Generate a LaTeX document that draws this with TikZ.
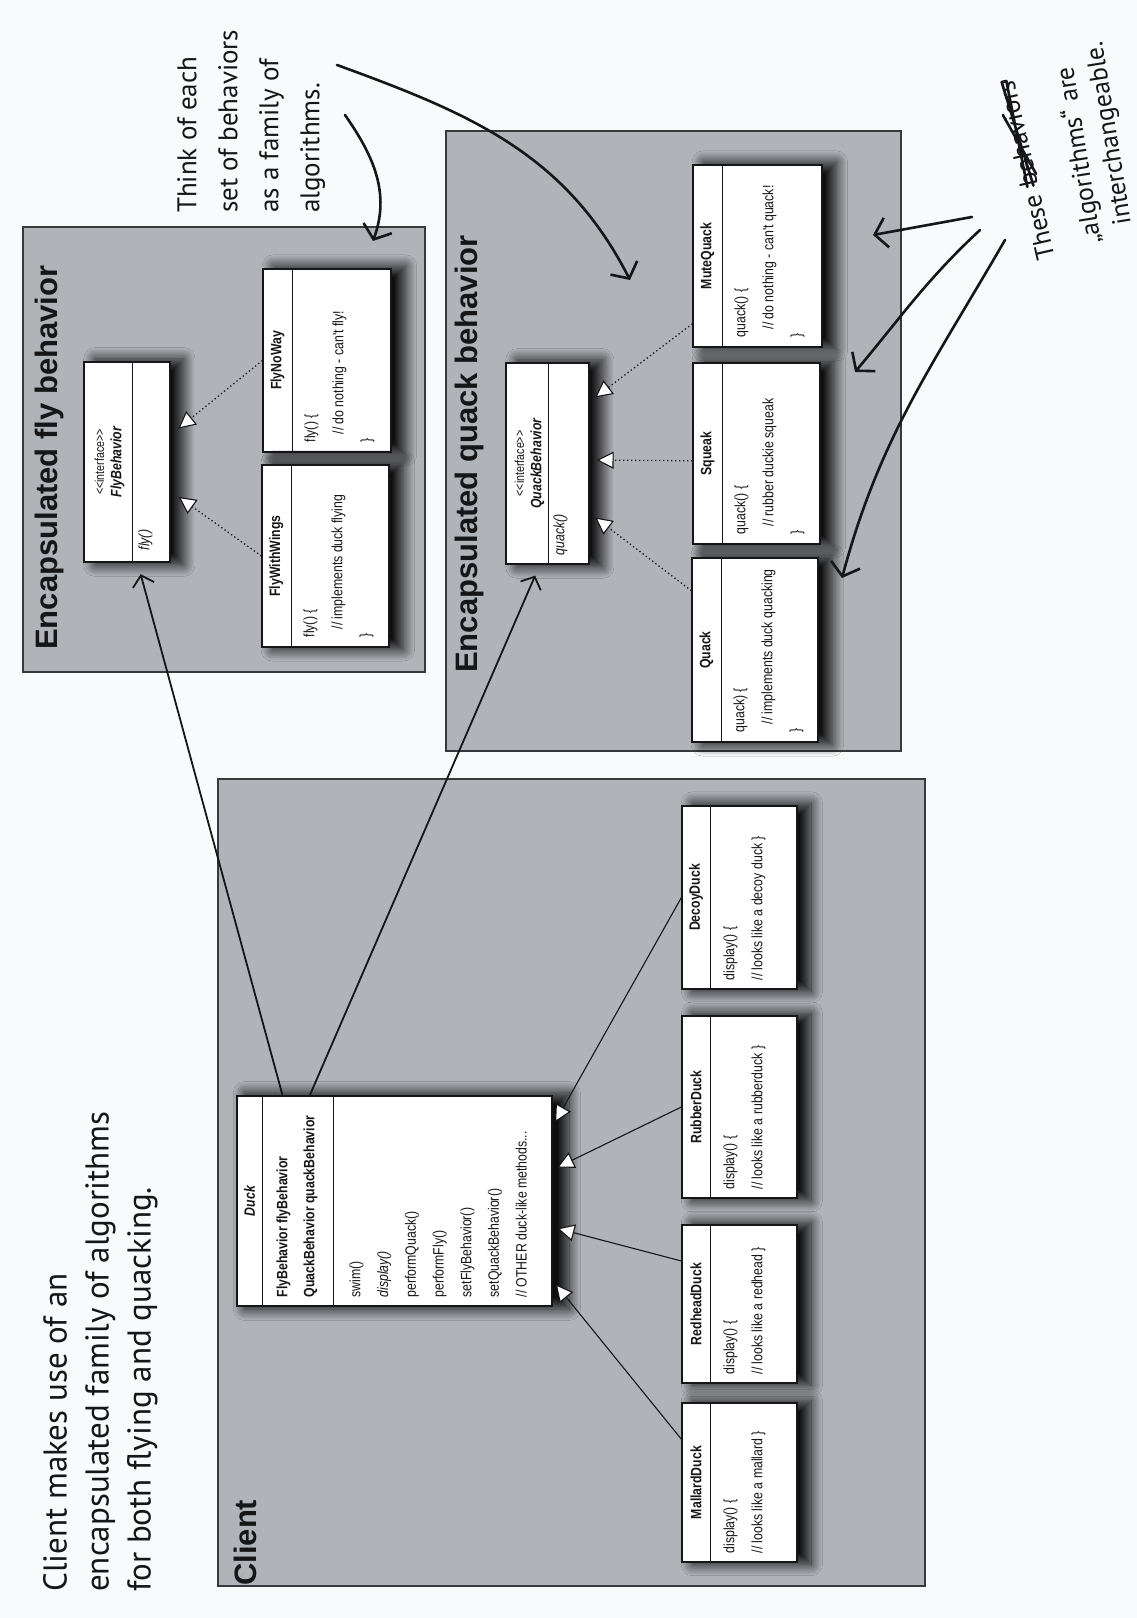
\documentclass[tikz,border=0pt]{standalone}
\usepackage{fontspec}
\usetikzlibrary{arrows.meta,calc,shadows.blur}

\newfontfamily\umlfont[FakeStretch=0.82]{Liberation Sans}
\newfontfamily\areafont{Liberation Sans}
\newfontfamily\handfont{PT Sans}

\definecolor{paper}{RGB}{248,250,251}
\definecolor{areafill}{RGB}{176,179,184}
\definecolor{arealine}{RGB}{55,57,60}
\definecolor{ink}{RGB}{22,22,24}

\begin{document}
\begin{tikzpicture}[
  x=1pt, y=1pt, rotate=90, transform shape,
  area/.style={draw=arealine, fill=areafill, line width=2.5pt, inner sep=0pt},
  areatitle/.style={anchor=base west, inner sep=0pt, text=ink, font=\areafont\bfseries\fontsize{31}{31}\selectfont},
  classbox/.style={draw=ink, fill=white, line width=1.2pt, inner sep=0pt,
    blur shadow={shadow xshift=12pt, shadow yshift=0pt, shadow scale=1.03, shadow blur radius=11pt, shadow blur steps=24, shadow opacity=92}},
  divider/.style={draw=ink, line width=1.2pt},
  classname/.style={inner sep=0pt, text=ink, font=\umlfont\bfseries\fontsize{15}{15}\selectfont},
  stereotype/.style={inner sep=0pt, text=ink, font=\umlfont\fontsize{13}{13}\selectfont},
  classbody/.style={anchor=north west, inner sep=0pt, align=left, text=ink, font=\umlfont\fontsize{15}{28}\selectfont},
  uses/.style={draw=ink, line width=1.8pt, shorten >=12pt, -{Straight Barb[length=10pt, width=22pt, line width=1.8pt]}},
  extends/.style={draw=ink, line width=1.1pt, shorten >=5pt, -{Triangle[length=17pt, width=17pt, fill=white, line width=1.1pt]}},
  implements/.style={draw=ink, line width=1.3pt, dash pattern=on 1.3pt off 2.7pt, shorten >=7pt, -{Triangle[length=17pt, width=17pt, fill=white, line width=1.1pt]}},
  hand/.style={anchor=north west, inner sep=0pt, align=left, text=ink, font=\handfont\fontsize{27}{41}\selectfont},
  handline/.style={anchor=base west, inner sep=0pt, text=ink, font=\handfont\fontsize{26}{26}\selectfont},
  scribble/.style={draw=ink, line width=2.6pt, line cap=round, line join=round},
  handarrow/.style={draw=ink, line width=2.6pt, line cap=round, -{Straight Barb[length=12pt, width=30pt, line width=2.6pt]}}
]

% === Page (drawn lying down, turned a quarter) ===
\fill[paper] (0,0) rectangle (1618,-1137);
\useasboundingbox (0,0) rectangle (1618,-1137);

% === Areas ===
\node[area, minimum width=445pt, minimum height=402pt] (flyarea) at (1168.5,-224) {};
\node[areatitle] (flytitle) at (968,-57) {Encapsulated fly behavior};
\node[area, minimum width=620pt, minimum height=455pt] (quackarea) at (1177,-673.5) {};
\node[areatitle] (quacktitle) at (945,-477) {Encapsulated quack behavior};
\node[area, minimum width=807pt, minimum height=707pt] (clientarea) at (435.5,-571.5) {};
\node[areatitle] (clienttitle) at (32,-256) {Client};

% === Fly behavior ===
\node[classbox, minimum width=200pt, minimum height=86pt] (FlyBehavior) at (1156,-127) {};
\draw[divider] ($(FlyBehavior.north west)+(0,-49)$) -- ($(FlyBehavior.north east)+(0,-49)$);
\node[stereotype] (FlyBehavior-s) at ($(FlyBehavior.north)+(0,-16)$) {<{}<interface>{}>};
\node[classname] (FlyBehavior-n) at ($(FlyBehavior.north)+(0,-34)$) {\itshape FlyBehavior};
\node[classbody] (FlyBehavior-b) at ($(FlyBehavior.north west)+(12,-55)$) {\itshape fly()};

\node[classbox, minimum width=183pt, minimum height=128pt] (FlyNoWay) at (1257.5,-327) {};
\draw[divider] ($(FlyNoWay.north west)+(0,-30)$) -- ($(FlyNoWay.north east)+(0,-30)$);
\node[classname] (FlyNoWay-n) at ($(FlyNoWay.north)+(0,-15)$) {FlyNoWay};
\node[classbody] (FlyNoWay-b) at ($(FlyNoWay.north west)+(10,-42)$) {fly() \{\\\hspace*{8pt}// do nothing - can't fly!\\\}};

\node[classbox, minimum width=182pt, minimum height=127pt] (FlyWithWings) at (1062,-325.5) {};
\draw[divider] ($(FlyWithWings.north west)+(0,-30)$) -- ($(FlyWithWings.north east)+(0,-30)$);
\node[classname] (FlyWithWings-n) at ($(FlyWithWings.north)+(0,-15)$) {FlyWithWings};
\node[classbody] (FlyWithWings-b) at ($(FlyWithWings.north west)+(10,-42)$) {fly() \{\\\hspace*{8pt}// implements duck flying\\\}};

% === Quack behavior ===
\node[classbox, minimum width=201pt, minimum height=83pt] (QuackBehavior) at (1154.5,-547.5) {};
\draw[divider] ($(QuackBehavior.north west)+(0,-43)$) -- ($(QuackBehavior.north east)+(0,-43)$);
\node[stereotype] (QuackBehavior-s) at ($(QuackBehavior.north)+(0,-14)$) {<{}<interface>{}>};
\node[classname] (QuackBehavior-n) at ($(QuackBehavior.north)+(0,-32)$) {\itshape QuackBehavior};
\node[classbody] (QuackBehavior-b) at ($(QuackBehavior.north west)+(9,-48)$) {\itshape quack()};

\node[classbox, minimum width=182pt, minimum height=129pt] (MuteQuack) at (1362,-757.5) {};
\draw[divider] ($(MuteQuack.north west)+(0,-30)$) -- ($(MuteQuack.north east)+(0,-30)$);
\node[classname] (MuteQuack-n) at ($(MuteQuack.north)+(0,-15)$) {MuteQuack};
\node[classbody] (MuteQuack-b) at ($(MuteQuack.north west)+(10,-42)$) {quack() \{\\\hspace*{8pt}// do nothing - can't quack!\\\}};

\node[classbox, minimum width=181pt, minimum height=127pt] (Squeak) at (1164.5,-756.5) {};
\draw[divider] ($(Squeak.north west)+(0,-30)$) -- ($(Squeak.north east)+(0,-30)$);
\node[classname] (Squeak-n) at ($(Squeak.north)+(0,-15)$) {Squeak};
\node[classbody] (Squeak-b) at ($(Squeak.north west)+(10,-42)$) {quack() \{\\\hspace*{8pt}// rubber duckie squeak\\\}};

\node[classbox, minimum width=184pt, minimum height=126pt] (Quack) at (968,-755) {};
\draw[divider] ($(Quack.north west)+(0,-30)$) -- ($(Quack.north east)+(0,-30)$);
\node[classname] (Quack-n) at ($(Quack.north)+(0,-15)$) {Quack};
\node[classbody] (Quack-b) at ($(Quack.north west)+(10,-42)$) {quack) \{\\\hspace*{8pt}// implements duck quacking\\\}};

% === Client ===
\node[classbox, minimum width=210pt, minimum height=315pt] (Duck) at (417,-394.5) {};
\draw[divider] ($(Duck.north west)+(0,-26)$) -- ($(Duck.north east)+(0,-26)$);
\draw[divider] ($(Duck.north west)+(0,-97)$) -- ($(Duck.north east)+(0,-97)$);
\node[classname] (Duck-n) at ($(Duck.north)+(0,-13)$) {\itshape Duck};
\node[classbody, font=\umlfont\bfseries\fontsize{15}{27}\selectfont] (Duck-a) at ($(Duck.north west)+(9,-40)$) {FlyBehavior flyBehavior\\QuackBehavior quackBehavior};
\node[classbody, font=\umlfont\fontsize{15}{27.7}\selectfont] (Duck-m) at ($(Duck.north west)+(9,-113)$) {swim()\\\textit{display()}\\performQuack()\\performFly()\\setFlyBehavior()\\setQuackBehavior()\\// OTHER duck-like methods...};

\node[classbox, minimum width=183pt, minimum height=115pt] (DecoyDuck) at (720.5,-739.5) {};
\draw[divider] ($(DecoyDuck.north west)+(0,-29)$) -- ($(DecoyDuck.north east)+(0,-29)$);
\node[classname] (DecoyDuck-n) at ($(DecoyDuck.north)+(0,-14.5)$) {DecoyDuck};
\node[classbody] (DecoyDuck-b) at ($(DecoyDuck.north west)+(9,-42)$) {display() \{\\// looks like a decoy duck \}};

\node[classbox, minimum width=182pt, minimum height=115pt] (RubberDuck) at (511,-739.5) {};
\draw[divider] ($(RubberDuck.north west)+(0,-29)$) -- ($(RubberDuck.north east)+(0,-29)$);
\node[classname] (RubberDuck-n) at ($(RubberDuck.north)+(0,-14.5)$) {RubberDuck};
\node[classbody] (RubberDuck-b) at ($(RubberDuck.north west)+(9,-42)$) {display() \{\\// looks like a rubberduck \}};

\node[classbox, minimum width=158pt, minimum height=115pt] (RedheadDuck) at (314,-739.5) {};
\draw[divider] ($(RedheadDuck.north west)+(0,-29)$) -- ($(RedheadDuck.north east)+(0,-29)$);
\node[classname] (RedheadDuck-n) at ($(RedheadDuck.north)+(0,-14.5)$) {RedheadDuck};
\node[classbody] (RedheadDuck-b) at ($(RedheadDuck.north west)+(9,-42)$) {display() \{\\// looks like a redhead \}};

\node[classbox, minimum width=159pt, minimum height=115pt] (MallardDuck) at (135.5,-739.5) {};
\draw[divider] ($(MallardDuck.north west)+(0,-29)$) -- ($(MallardDuck.north east)+(0,-29)$);
\node[classname] (MallardDuck-n) at ($(MallardDuck.north)+(0,-14.5)$) {MallardDuck};
\node[classbody] (MallardDuck-b) at ($(MallardDuck.north west)+(9,-42)$) {display() \{\\// looks like a mallard \}};

% === Connectors ===
\draw[implements, shorten >=10pt] (FlyNoWay.north) -- ($(FlyBehavior.south west)!0.635!(FlyBehavior.south east)$);
\draw[implements, shorten >=10pt] (FlyWithWings.north) -- ($(FlyBehavior.south west)!0.355!(FlyBehavior.south east)$);
\draw[implements] ($(MuteQuack.north west)!0.13!(MuteQuack.north east)$) -- ($(QuackBehavior.south west)!0.806!(QuackBehavior.south east)$);
\draw[implements] ($(Squeak.north west)!0.46!(Squeak.north east)$) -- ($(QuackBehavior.south west)!0.517!(QuackBehavior.south east)$);
\draw[implements] ($(Quack.north west)!0.82!(Quack.north east)$) -- ($(QuackBehavior.south west)!0.254!(QuackBehavior.south east)$);

\draw[extends] (DecoyDuck.north) -- ($(Duck.south west)!0.852!(Duck.south east)$);
\draw[extends] (RubberDuck.north) -- ($(Duck.south west)!0.648!(Duck.south east)$);
\draw[extends] ($(RedheadDuck.north west)!0.77!(RedheadDuck.north east)$) -- ($(Duck.south west)!0.376!(Duck.south east)$);
\draw[extends] ($(MallardDuck.north west)!0.77!(MallardDuck.north east)$) -- ($(Duck.south west)!0.124!(Duck.south east)$);

\draw[uses] ($(Duck.north east)!0.146!(Duck.south east)$) -- ($(FlyBehavior.north west)!0.62!(FlyBehavior.south west)$);
\draw[uses] ($(Duck.north east)!0.232!(Duck.south east)$) -- ($(QuackBehavior.north west)!0.41!(QuackBehavior.south west)$);

% === Notes ===
\node[hand, font=\handfont\fontsize{33}{42}\selectfont] (clientnote) at (26,-43) {Client makes use of an\\encapsulated family of algorithms\\for both flying and quacking.};
\node[hand] (thinknote) at (1405,-177) {Think of each\\set of behaviors\\as a family of\\algorithms.};

\node[handline, rotate=13] (these) at (1360,-1055) {These};
\node[handline, rotate=13] (behaviors) at ($(these.base east)!-9pt!(these.base west)$) {behaviors};
\node[handline, rotate=9] (algos) at (1375,-1101) {„algorithms“ are};
\node[handline, rotate=9] (interch) at (1394,-1131) {interchangeable.};
\draw[scribble] ($(behaviors.west)!0.45!(behaviors.south west)$) -- ($(behaviors.east)!0.35!(behaviors.north east)$)
  -- ($(behaviors.east)!0.15!(behaviors.south east)$) -- ($(behaviors.west)!0.2!(behaviors.north west)$)
  ($(behaviors.south west)!0.1!(behaviors.south east)$) -- ($(behaviors.north west)!0.7!(behaviors.north east)$);

\coordinate (thinkA) at (1503,-345);
\coordinate (flyspot) at (1377,-373);
\coordinate (thinkB) at (1553,-337);
\coordinate (quackspot) at (1338,-630);
\coordinate (theseA) at (1401,-972);
\coordinate (mutespot) at (1383,-873);
\coordinate (theseB) at (1388,-980);
\coordinate (squeakspot) at (1246,-855);
\coordinate (theseC) at (1378,-1005);
\coordinate (quackclsspot) at (1040,-842);

\draw[handarrow] (thinkA) to[out=215,in=-20] (flyspot);
\draw[handarrow] (thinkB) to[out=250,in=27] (quackspot);
\draw[handarrow] (theseA) -- (mutespot);
\draw[handarrow] (theseB) to[out=133,in=-40] (squeakspot);
\draw[handarrow] (theseC) to[out=150,in=-15] (quackclsspot);

\end{tikzpicture}
\end{document}
